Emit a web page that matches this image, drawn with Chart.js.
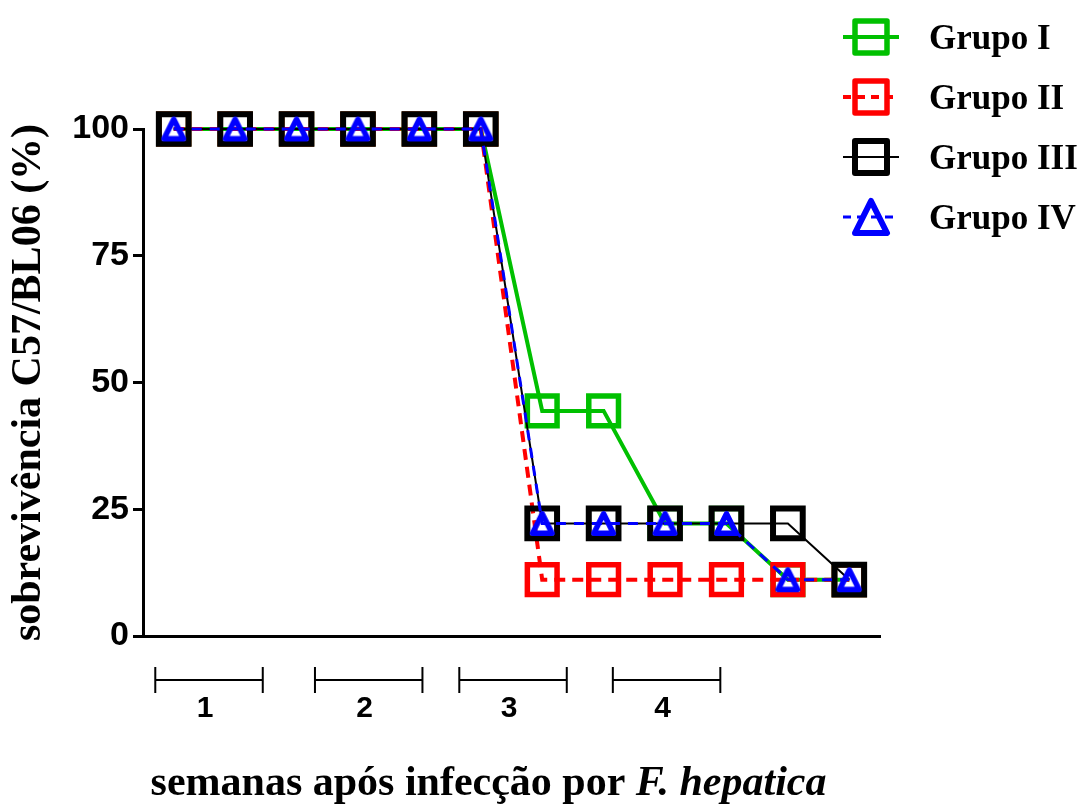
<!DOCTYPE html>
<html>
<head>
<meta charset="utf-8">
<script src="https://cdn.jsdelivr.net/npm/chart.js@4.4.0/dist/chart.umd.min.js"></script>
<style>
  html, body { margin: 0; padding: 0; background: #fff; }
  #wrap { width: 1083px; height: 808px; }
</style>
</head>
<body>
<div id="wrap"><canvas id="survivalChart"></canvas></div>
<script>
// observation points along the x axis
const timePoints = [0, 1, 2, 3, 4, 5, 6, 7, 8, 9, 10, 11];

// survival (%) per group
const grupoI   = [100, 100, 100, 100, 100, 100, 44.4, 44.4, 22.2, 22.2, 11.1, 11.1];
const grupoII  = [100, 100, 100, 100, 100, 100, 11.1, 11.1, 11.1, 11.1, 11.1, 11.1];
const grupoIII = [100, 100, 100, 100, 100, 100, 22.2, 22.2, 22.2, 22.2, 22.2, 11.1];
const grupoIV  = [100, 100, 100, 100, 100, 100, 22.2, 22.2, 22.2, 22.2, 11.1, 11.1];

const seriesNames = ["Grupo I", "Grupo II", "Grupo III", "Grupo IV"];
const yTicks = [0, 25, 50, 75, 100];

// week brackets under the x axis (in x-axis units)
const weekLabels = ["1", "2", "3", "4"];
const weekStart = [-0.3, 2.3, 4.65, 7.15];
const weekEnd   = [1.45, 4.05, 6.4, 8.9];

const GREEN = "#00c000", RED = "#ff0000", BLACK = "#000000", BLUE = "#0000ff";

// hollow triangle marker centred on its bounding box
function makeTriangle(size, lw, color) {
  const c = document.createElement("canvas");
  c.width = size; c.height = size;
  const g = c.getContext("2d");
  g.strokeStyle = color;
  g.lineWidth = lw;
  g.lineJoin = "round";
  const m = lw / 2 + 1;
  g.beginPath();
  g.moveTo(size / 2, m);
  g.lineTo(size - m, size - m);
  g.lineTo(m, size - m);
  g.closePath();
  g.stroke();
  return c;
}
const triSmall = makeTriangle(27, 5.5, BLUE);
const triBig = makeTriangle(40, 6, BLUE);

function pts(arr) {
  return arr.map((v, i) => ({ x: timePoints[i], y: v }));
}

const datasets = [
  { label: seriesNames[0], data: pts(grupoI), borderColor: GREEN, borderWidth: 4,
    pointStyle: "rect", pointRadius: 21, pointBorderWidth: 5.5, pointBorderColor: GREEN,
    pointBackgroundColor: "rgba(0,0,0,0)", order: 3 },
  { label: seriesNames[1], data: pts(grupoII), borderColor: RED, borderWidth: 4, borderDash: [11, 7],
    pointStyle: "rect", pointRadius: 21, pointBorderWidth: 5.5, pointBorderColor: RED,
    pointBackgroundColor: "rgba(0,0,0,0)", order: 2 },
  { label: seriesNames[2], data: pts(grupoIII), borderColor: BLACK, borderWidth: 2,
    pointStyle: "rect", pointRadius: 21, pointBorderWidth: 6, pointBorderColor: BLACK,
    pointBackgroundColor: "rgba(0,0,0,0)", order: 1 },
  { label: seriesNames[3], data: pts(grupoIV), borderColor: BLUE, borderWidth: 3, borderDash: [10, 8],
    pointStyle: triSmall, pointRadius: 13, pointBorderColor: BLUE,
    pointBackgroundColor: "rgba(0,0,0,0)", order: 0 }
];

// legend at top right, line through marker like the original
const legendPlugin = {
  id: "sideLegend",
  afterDraw(chart) {
    const ctx = chart.ctx;
    const rows = [37, 97, 157, 217];
    ctx.save();
    ctx.lineJoin = "round";
    chart.data.datasets.forEach((ds, i) => {
      const y = rows[i];
      ctx.strokeStyle = ds.borderColor;
      ctx.lineWidth = ds.borderWidth;
      ctx.setLineDash(ds.borderDash ? [8, 6] : []);
      ctx.beginPath();
      ctx.moveTo(843, y); ctx.lineTo(899, y);
      ctx.stroke();
      ctx.setLineDash([]);
      if (ds.pointStyle === "rect") {
        ctx.lineWidth = ds.pointBorderWidth;
        ctx.strokeRect(871 - 16, y - 16, 32, 32);
      } else {
        ctx.drawImage(triBig, 871 - 20, y - 20);
      }
      ctx.fillStyle = "#000";
      ctx.font = "bold 35px 'Liberation Serif', 'Times New Roman', serif";
      ctx.textAlign = "left";
      ctx.textBaseline = "alphabetic";
      ctx.fillText(ds.label, 929, y + 12);
    });
    ctx.restore();
  }
};

// week brackets and x-axis title (with italic species name)
const xDecorPlugin = {
  id: "xDecor",
  afterDraw(chart) {
    const ctx = chart.ctx;
    const xs = chart.scales.x;
    const area = chart.chartArea;
    const yb = area.bottom + 44;
    ctx.save();
    ctx.strokeStyle = "#000";
    ctx.lineWidth = 2;
    ctx.fillStyle = "#000";
    ctx.font = "bold 30px 'Liberation Sans', Arial, sans-serif";
    ctx.textAlign = "center";
    ctx.textBaseline = "middle";
    weekLabels.forEach((lab, i) => {
      const x0 = xs.getPixelForValue(weekStart[i]);
      const x1 = xs.getPixelForValue(weekEnd[i]);
      ctx.beginPath();
      ctx.moveTo(x0, yb); ctx.lineTo(x1, yb);
      ctx.moveTo(x0, yb - 13); ctx.lineTo(x0, yb + 13);
      ctx.moveTo(x1, yb - 13); ctx.lineTo(x1, yb + 13);
      ctx.stroke();
      ctx.fillText(lab, (x0 + x1) / 2 - 4, yb + 29);
    });

    const partA = "semanas após infecção por ";
    const partB = "F. hepatica";
    const fA = "bold 42px 'Liberation Serif', 'Times New Roman', serif";
    const fB = "italic bold 42px 'Liberation Serif', 'Times New Roman', serif";
    ctx.textAlign = "left";
    ctx.textBaseline = "alphabetic";
    ctx.font = fA; const wA = ctx.measureText(partA).width;
    ctx.font = fB; const wB = ctx.measureText(partB).width;
    const cx = (area.left + area.right) / 2 - 23;
    const x0 = cx - (wA + wB) / 2;
    ctx.font = fA; ctx.fillText(partA, x0, 795);
    ctx.font = fB; ctx.fillText(partB, x0 + wA, 795);
    ctx.restore();
  }
};

new Chart(document.getElementById("survivalChart"), {
  type: "line",
  data: { datasets: datasets },
  plugins: [legendPlugin, xDecorPlugin],
  options: {
    responsive: true,
    maintainAspectRatio: false,
    animation: false,
    clip: false,
    layout: { padding: { top: 129, right: 203, bottom: 172, left: 0 } },
    elements: { line: { tension: 0, fill: false } },
    datasets: { line: { clip: false } },
    plugins: { legend: { display: false }, tooltip: { enabled: false } },
    scales: {
      x: {
        type: "linear",
        min: -0.5,
        max: 11.5,
        grid: { display: false },
        ticks: { display: false },
        border: { display: true, color: "#000", width: 3 },
        afterFit(scale) { scale.height = 0; }
      },
      y: {
        min: 0,
        max: 100,
        afterBuildTicks(scale) { scale.ticks = yTicks.map(v => ({ value: v })); },
        grid: { drawOnChartArea: false, drawTicks: true, tickLength: 10, color: "#000", lineWidth: 3 },
        border: { display: true, color: "#000", width: 3 },
        ticks: {
          color: "#000",
          padding: 4,
          font: { family: "'Liberation Sans', Arial, sans-serif", weight: "bold", size: 34 }
        },
        title: {
          display: true,
          text: "sobrevivência C57/BL06 (%)",
          color: "#000",
          padding: { top: 4, bottom: 0 },
          font: { family: "'Liberation Serif', 'Times New Roman', serif", weight: "bold", size: 42 }
        },
        afterFit(scale) { scale.width = 143; }
      }
    }
  }
});
</script>
</body>
</html>
